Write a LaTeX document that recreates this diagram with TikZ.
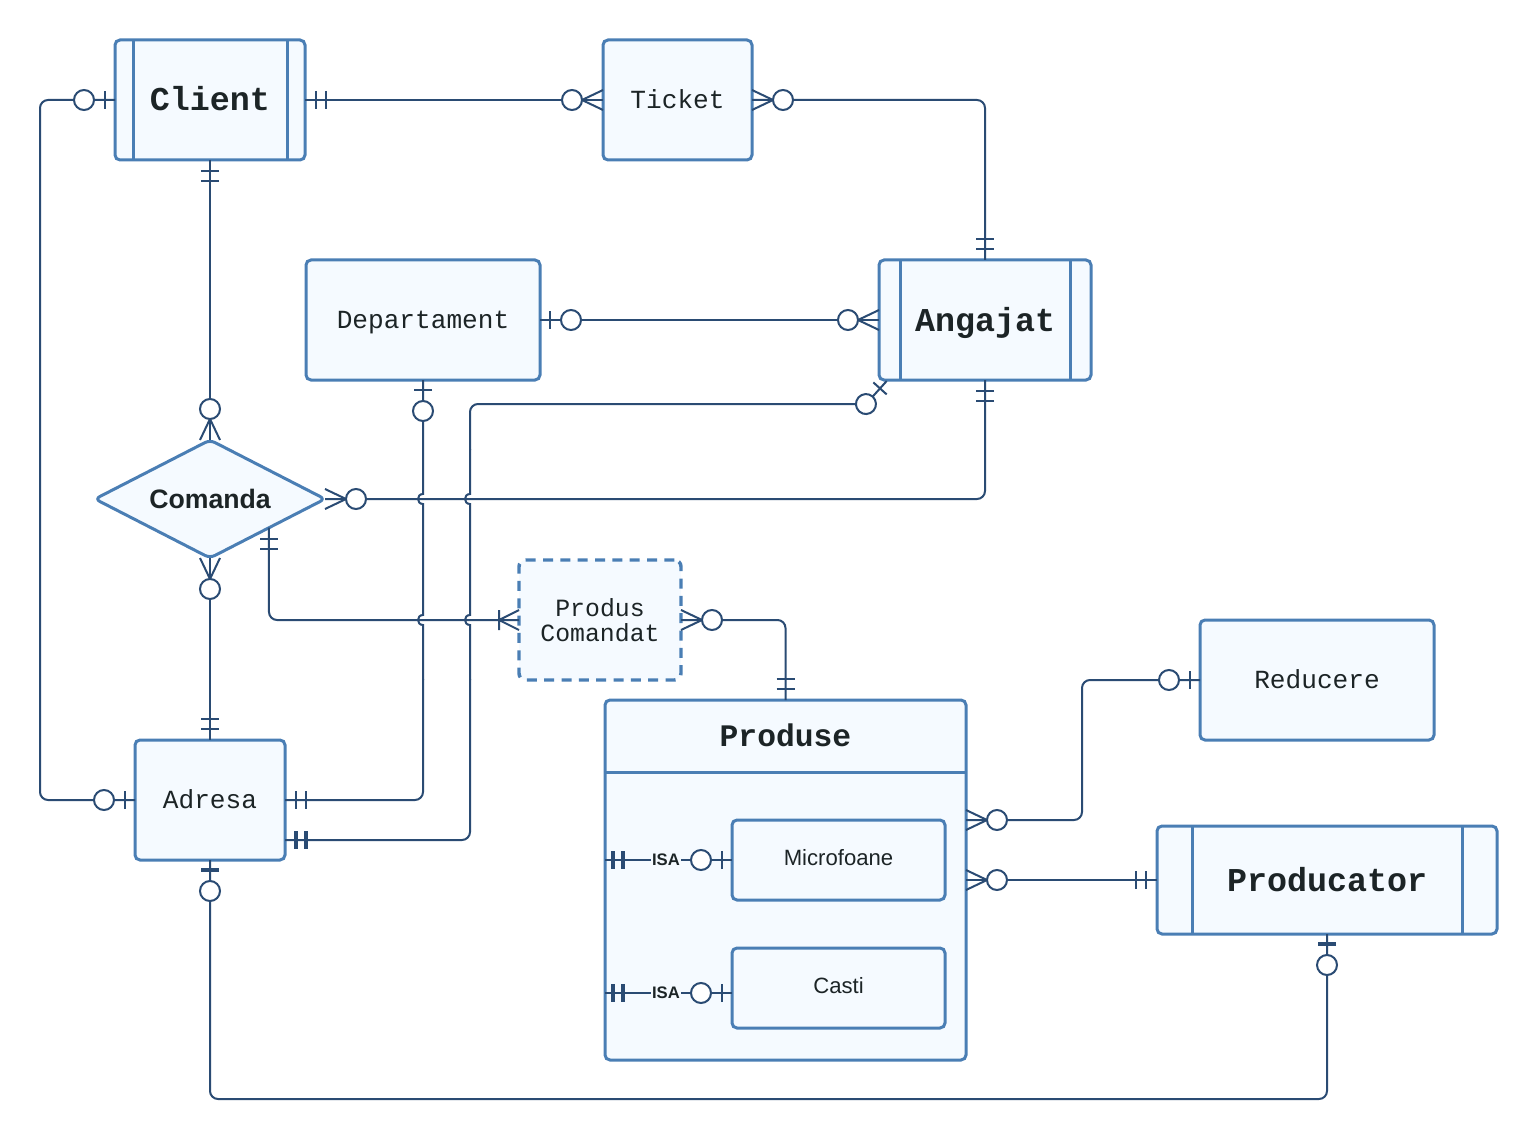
\documentclass[tikz,border=0pt]{standalone}
\usepackage{fontspec}
\setmainfont{Liberation Sans}
\newfontfamily\monofam{Liberation Mono}
\usetikzlibrary{shapes.geometric,calc}

\definecolor{wire}{HTML}{2A4B73}
\definecolor{edge}{HTML}{4A7EB4}
\definecolor{paper}{HTML}{F5FAFF}
\definecolor{ink}{HTML}{1C2426}

\tikzset{
  entity/.style={draw=edge, fill=paper, line width=2.25pt, rounded corners=3.75pt,
    inner sep=0pt, outer sep=0pt, text=ink, align=center},
  capcentred/.style={text height=#1, text depth=0pt},
  sidebars/.style={path picture={
    \draw[edge, line width=2.25pt]
      ($(path picture bounding box.north west)+(#1,0)$) -- ($(path picture bounding box.south west)+(#1,0)$)
      ($(path picture bounding box.north east)+(-#1,0)$) -- ($(path picture bounding box.south east)+(-#1,0)$);}},
  boldmono/.style={font=\monofam\bfseries\fontsize{25}{30}\selectfont, capcentred=16.5pt},
  plainmono/.style={font=\monofam\fontsize{19.6}{24}\selectfont, capcentred=12.9pt},
  sanslabel/.style={font=\fontsize{16.6}{20}\selectfont, capcentred=7.8pt},
  isalabel/.style={font=\bfseries\fontsize{12.5}{14}\selectfont, fill=paper, inner sep=0.6pt, text=ink},
  conn/.style={draw=wire, line width=1.5pt},
  hop/.style={to path={.. controls +(-6.67,0) and +(-6.67,0) .. (\tikztotarget)}},
  barline/.style={line width=1.5pt},
  pics/one/.style={code={
    \draw[wire, barline] (11,-9) -- (11,9) (21,-9) -- (21,9);}},
  pics/zeroone/.style={code={
    \draw[wire, barline] (10,-9) -- (10,9);
    \draw[wire, line width=1.5pt, fill=white] (31,0) circle[radius=10];}},
  pics/zeromany/.style={code={
    \draw[wire, line width=1.5pt] (0,-10) -- (21,0) -- (0,10);
    \draw[wire, line width=1.5pt, fill=white] (31,0) circle[radius=10];}},
  pics/onemany/.style={code={
    \draw[wire, line width=1.5pt] (0,-10) -- (20,0) -- (0,10) (20,-10) -- (20,10);}},
  heavybar/.style={barline/.style={line width=2.7pt}},
}

\begin{document}
\begin{tikzpicture}[x=0.75pt, y=-0.75pt]
\useasboundingbox (0,0) rectangle (1538,1141);

% ---------- entities ----------
\node[entity, boldmono, sidebars=18, minimum width=142.5pt, minimum height=90pt] (client) at (210,100) {Client};
\node[entity, plainmono, minimum width=111.75pt, minimum height=90pt] (ticket) at (677.5,100) {Ticket};
\node[entity, plainmono, minimum width=175.5pt, minimum height=90pt] (dept) at (423,320) {Departament};
\node[entity, boldmono, sidebars=21, minimum width=159pt, minimum height=90pt] (angajat) at (985,320) {Angajat};
\node[entity, shape=diamond, rounded corners=4pt, minimum width=172.5pt, minimum height=88.5pt, aspect=1.95,
      font=\bfseries\fontsize{20}{24}\selectfont, capcentred=14.4pt] (comanda) at (210,499) {Comanda};
\node[entity, dashed, dash pattern=on 7.5pt off 5.5pt, line width=2.6pt, rounded corners=5pt,
      font=\monofam\fontsize{18.6}{18.8}\selectfont,
      minimum width=121.5pt, minimum height=90pt] (pc) at (600,620) {Produs\\Comandat};
\node[entity, plainmono, minimum width=112.5pt, minimum height=90pt] (adresa) at (210,800) {Adresa};
\node[entity, minimum width=270.75pt, minimum height=270pt] (produse) at (785.5,880) {};
\draw[edge, line width=2.25pt] ($(produse.north west)+(0,72)$) -- ($(produse.north east)+(0,72)$);
\node[text=ink, font=\monofam\bfseries\fontsize{23.5}{28}\selectfont, capcentred=15.5pt, inner sep=0pt]
      (produsetitle) at ($(produse.north)+(0,36)$) {Produse};
\node[entity, plainmono, minimum width=175.5pt, minimum height=90pt] (reducere) at (1317,680) {Reducere};
\node[entity, boldmono, sidebars=35, minimum width=255pt, minimum height=81pt] (producator) at (1327,880) {Producator};

% ---------- crossings of the long verticals ----------
\coordinate (h1) at (423,499);
\coordinate (h2) at (423,620);
\coordinate (h3) at (470,499);
\coordinate (h4) at (470,620);

% ---------- relationships ----------
\draw[conn, rounded corners=6pt] (client.west) -- ++(-75,0) |- (adresa.west);
\draw[conn] (client.east) -- (ticket.west);
\draw[conn, rounded corners=6pt] (ticket.east) -| (angajat.north);
\draw[conn] (client.south) -- (comanda.north);
\draw[conn] (dept.east) -- (angajat.west);

% Departament -> Adresa, hopping over two horizontals
\draw[conn] (dept.south) -- ($(h1)+(0,-5)$) to[hop] ($(h1)+(0,5)$)
  -- ($(h2)+(0,-5)$) to[hop] ($(h2)+(0,5)$) -- ($(h2)+(0,60)$);
\draw[conn, rounded corners=6pt] ($(h2)+(0,59)$) |- (adresa.east);

% Angajat -> Adresa, hopping over two horizontals
\coordinate (ac) at ($(angajat.south west)+(7.7,1)$);
\coordinate (acring) at (866,404);
\coordinate (adlow) at ($(adresa.east)+(0,40)$);
\draw[conn, rounded corners=6pt] (ac) -- (acring) -- (470,404) -- (470,450);
\draw[conn] (470,449) -- ($(h3)+(0,-5)$) to[hop] ($(h3)+(0,5)$)
  -- ($(h4)+(0,-5)$) to[hop] ($(h4)+(0,5)$) -- ($(h4)+(0,60)$);
\draw[conn, rounded corners=6pt] ($(h4)+(0,59)$) |- (adlow);

\draw[conn, rounded corners=6pt] (comanda.east) -| (angajat.south);
\draw[conn] (comanda.south) -- (adresa.north);
\coordinate (cmlow) at ($(comanda.east)!0.487!(comanda.south)$);
\draw[conn, rounded corners=6pt] (cmlow) |- (pc.west);
\draw[conn, rounded corners=6pt] (pc.east) -| (produse.north);
\coordinate (prup) at ($(produse.east)+(0,-60)$);
\draw[conn, rounded corners=6pt] (prup) -- ++(116,0) |- (reducere.west);
\draw[conn] (produse.east) -- (producator.west);
\draw[conn, rounded corners=6pt] (adresa.south) -- ++(0,239) -| (producator.south);

% ---------- subtypes inside Produse ----------
\node[entity, sanslabel, line width=2.25pt, minimum width=159.75pt, minimum height=60pt] (micro) at (838.5,860) {Microfoane};
\node[entity, sanslabel, line width=2.25pt, minimum width=159.75pt, minimum height=60pt] (casti) at (838.5,988) {Casti};
\coordinate (cw) at ($(casti.west)+(0,5)$);
\draw[conn] (produse.west |- micro.west) -- node[isalabel, pos=0.48] (isa1) {ISA} (micro.west);
\draw[conn] (produse.west |- cw) -- node[isalabel, pos=0.48] (isa2) {ISA} (cw);

% ---------- cardinality marks ----------
\pic[rotate=180] at (client.west) {zeroone};
\pic[rotate=180] at (adresa.west) {zeroone};
\pic at (client.east) {one};
\pic[rotate=180] at (ticket.west) {zeromany};
\pic at (ticket.east) {zeromany};
\pic[rotate=90] at (angajat.north) {one};
\pic[rotate=270] at (client.south) {one};
\pic[rotate=90] at (comanda.north) {zeromany};
\pic at (dept.east) {zeroone};
\pic[rotate=180] at (angajat.west) {zeromany};
\pic[rotate=270] at (dept.south) {zeroone};
\pic at (adresa.east) {one};
\pic[rotate=228] at (ac) {zeroone};
\pic[heavybar] at (adlow) {one};
\pic at (comanda.east) {zeromany};
\pic[rotate=270] at (angajat.south) {one};
\pic[rotate=270] at (comanda.south) {zeromany};
\pic[rotate=90] at (adresa.north) {one};
\pic[rotate=270] at (cmlow) {one};
\pic[rotate=180] at (pc.west) {onemany};
\pic at (pc.east) {zeromany};
\pic[rotate=90] at (produse.north) {one};
\pic at (prup) {zeromany};
\pic at (produse.east) {zeromany};
\pic[rotate=180] at (reducere.west) {zeroone};
\pic[rotate=180] at (producator.west) {one};
\pic[rotate=270, heavybar] at (adresa.south) {zeroone};
\pic[rotate=270, heavybar] at (producator.south) {zeroone};
\pic[heavybar, xshift=-2.25pt] at (produse.west |- micro.west) {one};
\pic[heavybar, xshift=-2.25pt] at (produse.west |- cw) {one};
\pic[rotate=180] at (micro.west) {zeroone};
\pic[rotate=180] at (cw) {zeroone};
\end{tikzpicture}
\end{document}
